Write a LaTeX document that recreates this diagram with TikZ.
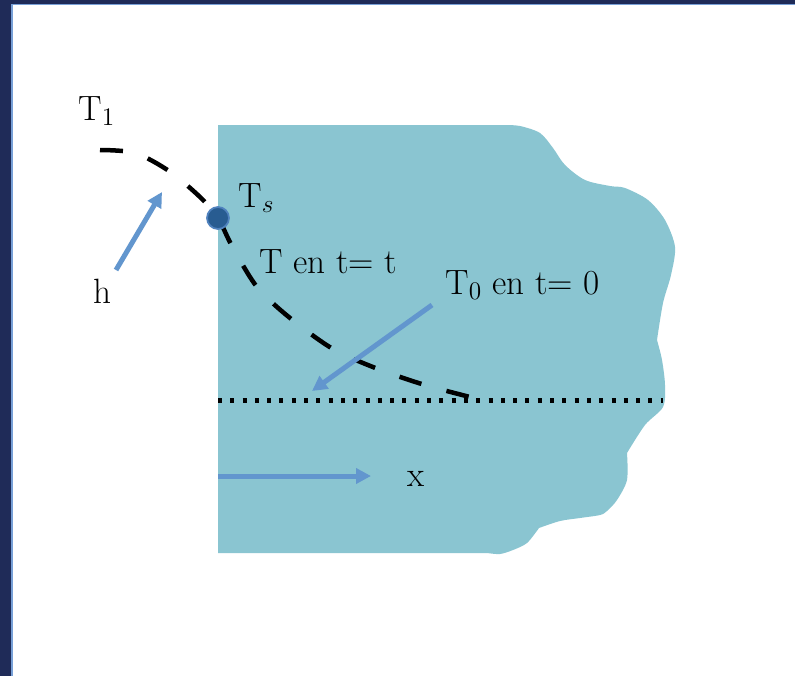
\documentclass[tikz,border=0pt]{standalone}
\usepackage{xcolor}
\usepackage{tikz}
\usetikzlibrary{arrows.meta}

\definecolor{slide}{RGB}{31,43,88}
\definecolor{rim}{RGB}{120,160,215}
\definecolor{slab}{RGB}{138,197,209}
\definecolor{flux}{RGB}{98,150,206}
\definecolor{dotblue}{RGB}{40,92,145}
\definecolor{dotrim}{RGB}{80,130,190}

\begin{document}
\begin{tikzpicture}[x=0.02cm, y=-0.02cm,
      lbl/.style={anchor=base west, inner sep=0pt, font=\fontsize{20}{24}\selectfont},
      arr/.style={-{Triangle[length=3mm, width=3mm]}, line width=0.1cm, flux},
      profile/.style={line width=0.09cm, dash pattern=on 0.46cm off 0.52cm},
      level/.style={line width=0.1cm, dash pattern=on 0.08cm off 0.166cm},
    ]
    \useasboundingbox (0,0) rectangle (795,676);
    % slide frame
    \fill[slide] (0,0) rectangle (795,676);
    \fill[white, draw=rim, line width=0.04cm] (12,4.5) rectangle (820,700);
    % the solid
    \fill[slab] (218,125) -- (505,125)
      -- plot[smooth] coordinates {(505,125) (520,126) (540,133) (553,148) (565,165) (585,180) (610,186) (625,188) (648,200) (665,220) (675,247) (671,275) (663,303) (657,340)}
      -- plot[smooth] coordinates {(657,340) (662,360) (665,385) (663,407) (645,425) (627,453)}
      -- plot[smooth] coordinates {(627,453) (627,480) (617,500) (607,511) (600,515) (580,518) (560,521) (539,528)}
      -- plot[smooth] coordinates {(539,528) (527,543) (513,550) (500,554) (487,553)}
      -- (218,553) -- cycle;
    % temperature profiles
    \coordinate (wall) at (218,400);
    \coordinate (far) at (663,400);
    \draw[level] (wall) -- (far);
    \draw[profile] plot[smooth] coordinates {(100,150) (135,153) (169,171) (200,197) (218,218) (232,246) (257,287) (290,318) (333,349) (378,369) (425,385) (474,398)};
    \node[circle, fill=dotblue, draw=dotrim, line width=1pt, minimum size=0.44cm, inner sep=0pt] (ts) at (218,218) {};
    % labels
    \node[lbl] (tone) at (78,120) {T$_1$};
    \node[lbl] (tsurf) at (238,207) {T$_s$};
    \node[lbl] (hcoef) at (93,303) {h};
    \node[lbl] (tnow) at (259,273) {T en t= t};
    \node[lbl] (tinit) at (445,294) {T$_0$ en t= 0};
    \node[lbl] (xaxis) at (407,486) {x};
    % arrows
    \coordinate (htail) at (116,270);
    \coordinate (htip) at (162,192);
    \coordinate (ttail) at (432,305);
    \coordinate (ttip) at (312,391);
    \coordinate (xtail) at (218,476);
    \coordinate (xtip) at (371,476);
    \draw[arr] (htail) -- (htip);
    \draw[arr] (ttail) -- (ttip);
    \draw[arr] (xtail) -- (xtip);
  \end{tikzpicture}
\end{document}
